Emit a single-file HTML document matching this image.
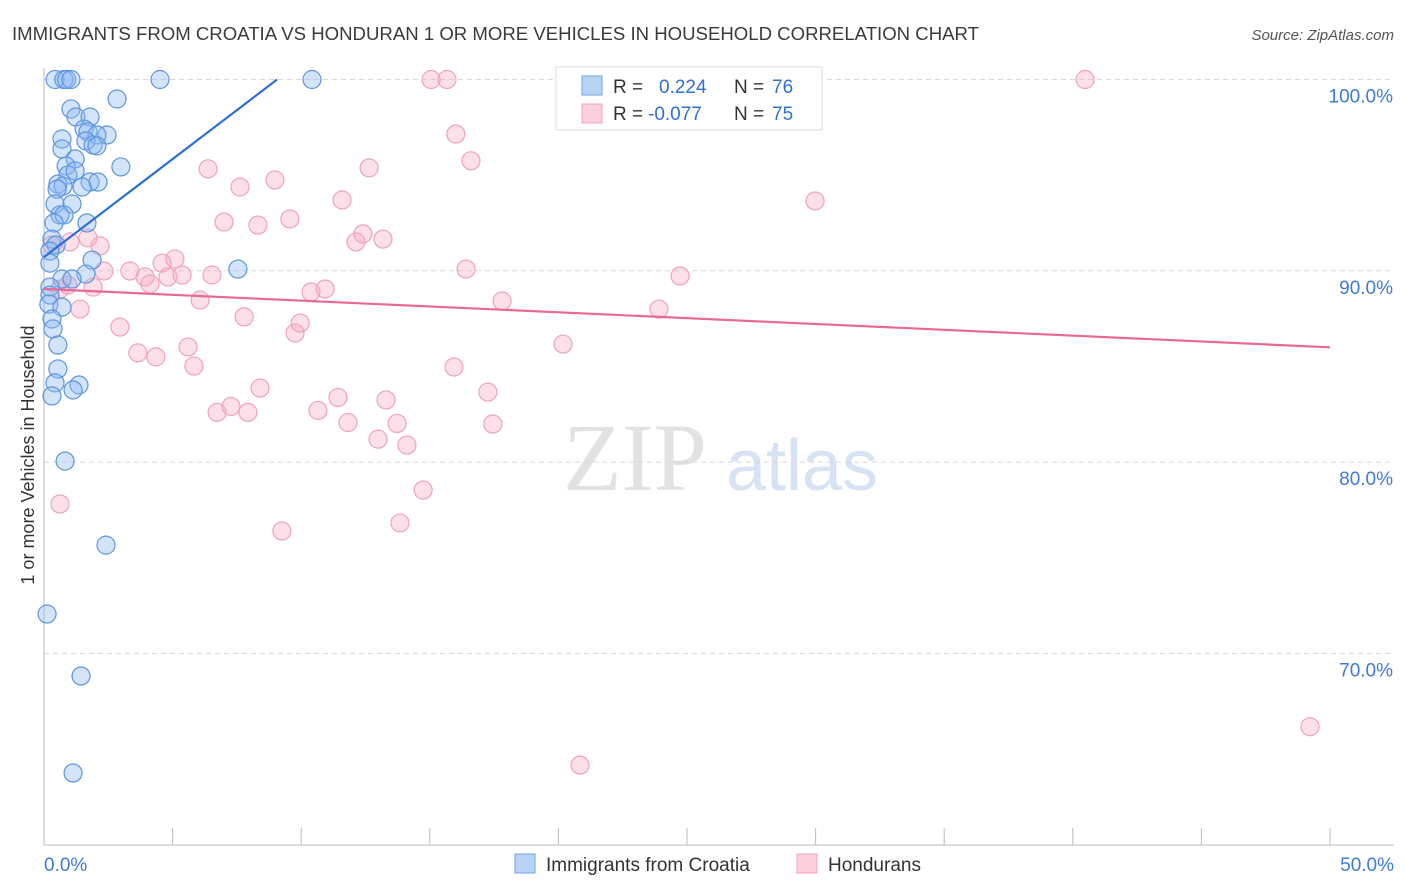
<!DOCTYPE html>
<html><head><meta charset="utf-8">
<style>
body{margin:0;background:#fff;font-family:"Liberation Sans",sans-serif;}
#wrap{position:relative;width:1406px;height:892px;overflow:hidden;}
</style></head>
<body>
<div id="wrap">
<svg id="svg" width="1406" height="892" xmlns="http://www.w3.org/2000/svg">
<text x="12" y="40" font-size="18.6" fill="#3a3a3a">IMMIGRANTS FROM CROATIA VS HONDURAN 1 OR MORE VEHICLES IN HOUSEHOLD CORRELATION CHART</text>
<text x="1394" y="40" font-size="15" font-style="italic" fill="#555" text-anchor="end">Source: ZipAtlas.com</text>
<text x="34" y="455" font-size="18" fill="#333" text-anchor="middle" transform="rotate(-90 34 455)">1 or more Vehicles in Household</text>
<g>
<text x="635" y="490" font-size="96" font-family="Liberation Serif,serif" fill="#e2e2e2" text-anchor="middle">ZIP</text>
<text x="802" y="490" font-size="72" fill="#d5e3f4" text-anchor="middle">atlas</text>
</g>
<g id="grid"></g><g id="axes"></g><g id="pts"></g><g id="trend"></g>
<g>
<rect x="556" y="67" width="266" height="63" fill="#fff" stroke="#ddd"/>
<rect x="582" y="76" width="20" height="19" fill="#b8d4f5" stroke="#6fa3e6"/>
<rect x="582" y="104" width="20" height="19" fill="#fbd0dc" stroke="#f0a0b8"/>
<text x="613" y="93" font-size="19" fill="#333">R =</text><text x="659" y="93" font-size="19" fill="#2f6fd6">0.224</text>
<text x="734" y="93" font-size="19" fill="#333">N =</text><text x="772" y="93" font-size="19" fill="#2f6fd6">76</text>
<text x="613" y="120" font-size="19" fill="#333">R =</text><text x="648" y="120" font-size="19" fill="#2f6fd6">-0.077</text>
<text x="734" y="120" font-size="19" fill="#333">N =</text><text x="772" y="120" font-size="19" fill="#2f6fd6">75</text>
</g>
<g>
<rect x="515" y="854" width="20" height="19" fill="#b8d4f5" stroke="#6fa3e6"/>
<text x="546" y="871" font-size="19" fill="#333">Immigrants from Croatia</text>
<rect x="797" y="854" width="20" height="19" fill="#fbd0dc" stroke="#f0a0b8"/>
<text x="828" y="871" font-size="19" fill="#333">Hondurans</text>
</g>
</svg>
</div>
<script>
const blueX=[0.43,0.77,0.88,1.05,4.51,10.42,2.84,1.05,1.24,1.79,1.56,1.71,2.45,2.06,0.70,1.63,1.91,2.06,0.70,1.21,0.86,2.99,0.93,1.21,1.79,2.10,0.54,0.74,0.51,1.48,0.43,1.09,0.62,0.78,0.39,1.67,0.31,0.47,0.23,1.87,0.23,7.54,1.63,0.70,1.09,0.23,0.23,0.19,0.70,0.31,0.35,0.54,0.54,0.43,1.36,1.13,0.31,0.82,2.41,0.12,1.44,1.13];
const blueY=[100,100,100,100,100,100,98.98,98.46,98.04,98.04,97.41,97.26,97.1,97.1,96.89,96.79,96.58,96.53,96.37,95.85,95.48,95.43,95.01,95.22,94.64,94.64,94.53,94.43,94.27,94.38,93.49,93.49,92.92,92.92,92.5,92.5,91.66,91.35,91.03,90.56,90.4,90.09,89.83,89.57,89.57,89.15,88.73,88.26,88.1,87.48,86.96,86.12,84.87,84.14,84.03,83.77,83.46,80.05,75.66,72.06,68.82,63.75];
const pinkX=[0.62,0.31,1.01,1.71,2.18,0.62,1.40,0.93,1.91,2.33,2.95,3.34,3.65,3.93,4.12,4.35,4.59,4.82,5.09,5.37,5.60,5.83,6.07,6.38,6.53,6.73,7.00,7.27,7.62,7.78,7.93,8.32,8.40,8.98,9.25,9.56,9.76,9.96,10.38,10.65,10.93,11.43,11.59,11.82,12.13,12.40,12.64,12.99,13.18,13.30,13.73,13.84,14.11,14.74,15.05,15.67,15.94,16.01,16.41,16.60,17.26,17.45,17.81,20.18,20.84,23.91,24.73,27.88,28.15,29.98,40.48,49.22];
const pinkY=[77.81,91.35,91.51,91.72,91.3,89.05,88.0,89.26,89.15,89.99,87.06,89.99,85.71,89.68,89.31,85.5,90.4,89.68,90.62,89.78,86.02,85.02,88.47,95.33,89.78,82.6,92.55,82.91,94.38,87.59,82.6,92.39,83.87,94.75,76.4,92.71,86.75,87.27,88.89,82.7,89.05,83.38,93.7,82.07,91.51,91.93,95.38,81.2,91.66,83.25,82.02,76.82,80.89,78.54,100,100,84.97,97.15,90.09,95.75,83.66,81.99,88.42,86.17,64.16,88.0,89.73,100,100,93.65,100,66.17];
const xTicks=[0,50],yTicks=[70,80,90,100];
const blueTrend=[90.72,1.024],pinkTrend=[89.05,-0.061];
const NS="http://www.w3.org/2000/svg";
const xs=v=>44+v/50*1286, ys=v=>79.5+(100-v)*19.13;
function mk(t,a,p){const e=document.createElementNS(NS,t);for(const k in a)e.setAttribute(k,a[k]);p.appendChild(e);return e;}
const grid=document.getElementById('grid'),axes=document.getElementById('axes'),pts=document.getElementById('pts'),tr=document.getElementById('trend');
yTicks.forEach(v=>{
 const l=mk('line',{x1:44,x2:1394,y1:ys(v),y2:ys(v),stroke:'#d8d8d8','stroke-dasharray':'5,4'},grid);
 
 
 const t=mk('text',{x:1393,y:ys(v)+23,'font-size':19,fill:'#3f7bd6','text-anchor':'end'},axes);t.textContent=v.toFixed(1)+'%';
 
 
});
mk('line',{x1:44,x2:44,y1:68,y2:845,stroke:'#bbb'},axes);
const xl=mk('line',{x1:44,x2:1394,y1:845,y2:845,stroke:'#bbb'},axes);


for(let i=1;i<=10;i++){mk('line',{x1:44+i*128.6,x2:44+i*128.6,y1:828,y2:845,stroke:'#bbb'},axes);}
xTicks.forEach((v,i)=>{const t=mk('text',{x:i?1394:44,y:871,'font-size':19,fill:'#3f7bd6','text-anchor':i?'end':'start'},axes);t.textContent=v.toFixed(1)+'%';
 
 });
pinkX.forEach((x,i)=>{const c=mk('circle',{cx:xs(x),cy:ys(pinkY[i]),r:9,fill:'rgba(246,170,195,0.38)',stroke:'#eea3ba','stroke-width':1.2},pts);
 
 });
blueX.forEach((x,i)=>{const c=mk('circle',{cx:xs(x),cy:ys(blueY[i]),r:9,fill:'rgba(140,185,240,0.38)',stroke:'#5d95e0','stroke-width':1.2},pts);
 
 });
const bx2=(100-blueTrend[0])/blueTrend[1];
const bl=mk('line',{x1:xs(0),y1:ys(blueTrend[0]),x2:xs(bx2),y2:ys(100),stroke:'#2d6fd6','stroke-width':2.2},tr);


const pl=mk('line',{x1:xs(0),y1:ys(pinkTrend[0]),x2:xs(50),y2:ys(pinkTrend[0]+50*pinkTrend[1]),stroke:'#e86a94','stroke-width':2.2},tr);


</script>
</body></html>
